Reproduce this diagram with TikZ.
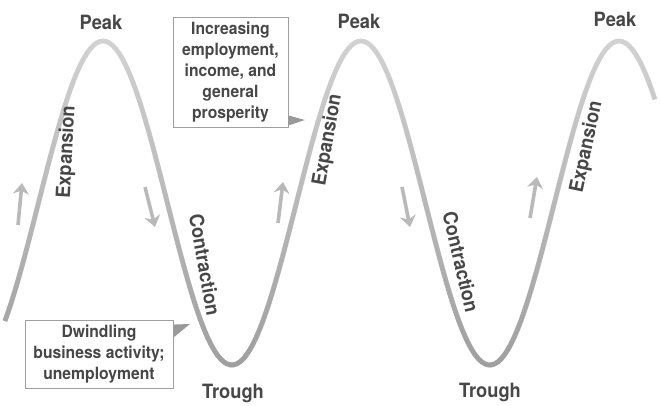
\documentclass[tikz,border=0pt]{standalone}
\usepackage{fontspec}
\setmainfont{TeX Gyre Heros}[FakeStretch=0.93]
\usetikzlibrary{arrows.meta}
\usetikzlibrary{fadings}

\tikzset{
  wave/.style={line width=0.12cm, gray!35},
  trend/.style={-{Stealth[length=0.28cm,width=0.4cm]}, line width=0.09cm, gray!55},
  phase/.style={font=\fontsize{14}{14}\selectfont\bfseries, text=black!72, inner sep=0pt},
  callout/.style={draw=gray!75, line width=0.6pt, fill=white, align=center,
    font=\fontsize{12}{15}\selectfont\bfseries, text=black!72},
  pointer/.style={fill=gray!80},
}

\begin{document}
\begin{tikzpicture}[x=0.025cm, y=-0.025cm]

            \useasboundingbox (0,0) rectangle (660,406);

            % the cycle, getting darker down in the troughs
            \draw[wave] plot[domain=5:655, samples=200] (\x, {203-162*cos((\x-103)/258*360)});
            \draw[wave, gray!75, path fading=north] plot[domain=5:655, samples=200] (\x, {203-162*cos((\x-103)/258*360)});

            \node[phase] (peak1) at (101,22) {Peak};
            \node[phase] (peak2) at (359,21) {Peak};
            \node[phase] (peak3) at (615,19) {Peak};
            \node[phase] (trough1) at (233,393) {Trough};
            \node[phase] (trough2) at (490,392) {Trough};

            \node[phase, rotate=87] (exp1) at (67,152) {Expansion};
            \node[phase, rotate=80] (exp2) at (328,140) {Expansion};
            \node[phase, rotate=78] (exp3) at (587,147) {Expansion};
            \node[phase, rotate=-80] (con1) at (205,265) {Contraction};
            \node[phase, rotate=-77] (con2) at (461,262) {Contraction};

            % direction arrows beside the curve
            \draw[trend] (18,225) -- (22,183);
            \draw[trend] (145,187) -- (155,227);
            \draw[trend] (278,223) -- (283,182);
            \draw[trend] (402,187) -- (410,227);
            \draw[trend] (530,218) -- (537,177);

            \node[callout, minimum width=2.875cm, minimum height=2.75cm] (boom) at (230.5,72)
              {Increasing\\employment,\\income, and\\general\\prosperity};
            \node[callout, minimum width=3.7cm, minimum height=1.7cm] (slump) at (99,354)
              {Dwindling\\business activity;\\unemployment};

            \coordinate (boomtip) at (305,120);
            \coordinate (slumptip) at (190,324);
            \fill[pointer] ([yshift=0.3cm]boom.south east) -- (boomtip) -- ([yshift=0.05cm]boom.south east) -- cycle;
            \fill[pointer] ([yshift=-0.125cm]slump.north east) -- (slumptip) -- ([yshift=-0.45cm]slump.north east) -- cycle;

\end{tikzpicture}
\end{document}
